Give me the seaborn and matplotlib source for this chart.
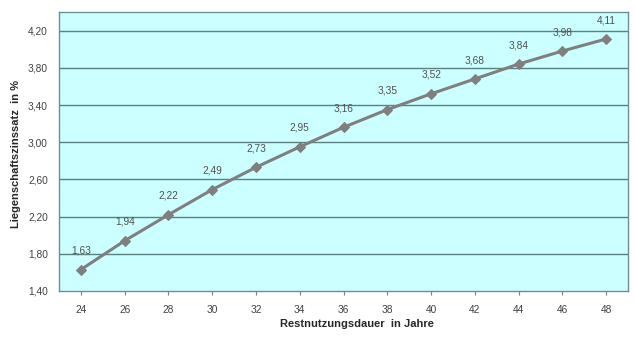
import matplotlib
matplotlib.use("Agg")
import matplotlib.pyplot as plt
import seaborn as sns
import pandas as pd

jahre = [24, 26, 28, 30, 32, 34, 36, 38, 40, 42, 44, 46, 48]
zins = [1.63, 1.94, 2.22, 2.49, 2.73, 2.95, 3.16, 3.35, 3.52, 3.68, 3.84, 3.98, 4.11]
yticks = [1.40, 1.80, 2.20, 2.60, 3.00, 3.40, 3.80, 4.20]

df = pd.DataFrame({"jahre": jahre, "zins": zins})

sns.set_theme(style="white")
plt.rcParams['font.family'] = ['DejaVu Sans']

fig = plt.figure(figsize=(6.35, 3.51), dpi=100)
ax = fig.add_axes([59/635, 1-291/351, (628-59)/635, (291-12)/351])
ax.set_facecolor("#CCFFFF")

sns.lineplot(data=df, x="jahre", y="zins", ax=ax, color="#7F7F7F", linewidth=2.2,
             marker="D", markersize=5.5, markeredgecolor="#7F7F7F", zorder=3)

ax.set_xlim(23, 49)
ax.set_ylim(1.40, 4.40)
ax.set_xticks(jahre)
ax.set_xticklabels([str(j) for j in jahre], fontsize=7.3, color="#404040", family="Liberation Sans")
ax.set_yticks(yticks)
ax.set_yticklabels([f"{v:.2f}".replace(".", ",") for v in yticks], fontsize=7.3, color="#404040", family="Liberation Sans")
for v in yticks[1:]:
    ax.axhline(v, color="#5A8080", linewidth=1.0, zorder=1)

ax.tick_params(axis="x", length=3, width=0.8, color="#7F7F7F", pad=7, bottom=True)
ax.tick_params(axis="y", length=0, pad=8, left=False)
for s in ax.spines.values():
    s.set_color("#6F8F8F")
    s.set_linewidth(1.0)

for x, y in zip(jahre, zins):
    ax.annotate(f"{y:.2f}".replace(".", ","), (x, y), xytext=(0, 10), textcoords="offset points",
                ha="center", va="bottom", fontsize=7.3, color="#505050", family="Liberation Sans")

ax.set_xlabel("Restnutzungsdauer  in Jahre", fontsize=8, fontweight="bold", family="Liberation Sans")
ax.set_ylabel("Liegenschaftszinssatz  in %", fontsize=8, fontweight="bold", family="Liberation Sans")
ax.xaxis.set_label_coords((357-59)/569, (291-319)/279)
ax.yaxis.set_label_coords((21-59)/569, (291-154)/279)

fig.savefig("out.png", dpi=100)
